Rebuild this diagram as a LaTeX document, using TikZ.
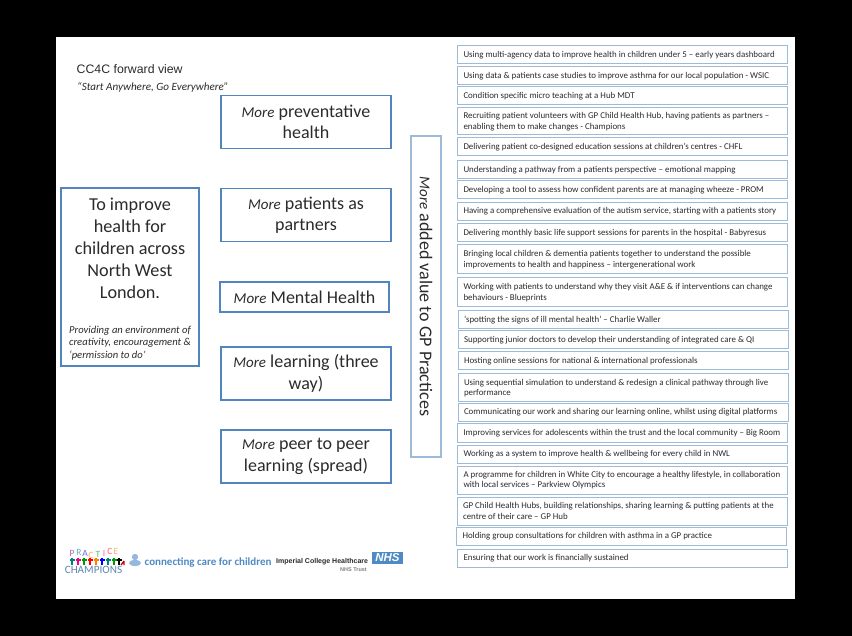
\documentclass[tikz,border=0pt]{standalone}
\usepackage{fontspec}
\setmainfont{Carlito}
\newfontfamily\arialfont{Liberation Sans}
\definecolor{boxblue}{HTML}{4F86C0}
\definecolor{itemblue}{HTML}{9DBAD6}
\definecolor{inktext}{HTML}{2B2B2B}
\definecolor{logoblue}{HTML}{4F8AC4}
\tikzset{
    morebox/.style={draw=boxblue,line width=1.2pt,fill=white,minimum width=170pt,minimum height=53pt,align=center,text=inktext,font=\fontsize{18}{21.5}\selectfont,inner sep=2pt},
    itembox/.style={draw=itemblue,line width=1pt,fill=white,minimum width=330pt,minimum height=18pt,text width=318pt,align=flush left,text=inktext,font=\fontsize{8.9}{10.6}\selectfont,inner xsep=6pt,inner ysep=1pt},
    logotext/.style={inner sep=0pt,font=\bfseries\fontsize{11}{11}\selectfont},
    person/.style={line width=1.3pt}
}
\newcommand{\more}[1]{{\fontsize{15}{21.5}\selectfont\itshape #1}}
\begin{document}
\begin{tikzpicture}[x=1pt,y=-1pt]
    \useasboundingbox (0,0) rectangle (852,636);
    \fill[black] (0,0) rectangle (852,636);
    \fill[white] (56,37) rectangle (795,599);

    \node[anchor=west,inner sep=0pt,text=inktext,font=\arialfont\fontsize{12.3}{14}\selectfont] (title) at (76.5,69.5) {CC4C forward view};
    \node[anchor=west,inner sep=0pt,text=inktext,font=\itshape\fontsize{11.1}{12}\selectfont] (motto) at (77,87) {``Start Anywhere, Go Everywhere''};

    % aim on the left
    \node[draw=boxblue,line width=1.2pt,fill=white,minimum width=138pt,minimum height=178pt] (aim) at (130,277) {};
    \node[align=center,inner sep=0pt,text=inktext,font=\fontsize{18.2}{22}\selectfont] (aimtext) at (130,248) {To improve\\health for\\children across\\North West\\London.};
    \node[anchor=west,align=left,inner sep=0pt,text=inktext,font=\itshape\fontsize{10.6}{12.5}\selectfont] (aimnote) at (69,343) {Providing an environment of\\creativity, encouragement \&\\`permission to do'};

    % the five mores
    \node[morebox] (preventative) at (306,122) {\more{More} preventative\\health};
    \node[morebox] (partners) at (306,215) {\more{More} patients as\\partners};
    \node[morebox,minimum width=169pt,minimum height=30pt] (mental) at (304.5,297) {\more{More} Mental Health};
    \node[morebox] (learning) at (306,373.5) {\more{More} learning (three\\way)};
    \node[morebox] (peer) at (306,456.5) {\more{More} peer to peer\\learning (spread)};

    \node[draw=itemblue,line width=1.2pt,fill=white,minimum width=321pt,minimum height=30pt,rotate=-90,text=inktext,font=\fontsize{18}{21}\selectfont] (value) at (426,296.5) {\more{More} added value to GP Practices};

    % projects
    \node[itembox] (item1) at (622.5,55) {Using multi-agency data to improve health in children under 5 – early years dashboard};
    \node[itembox] (item2) at (622.5,76) {Using data \& patients case studies to improve asthma for our local population - WSIC};
    \node[itembox] (item3) at (622.5,96) {Condition specific micro teaching at a Hub MDT};
    \node[itembox,minimum height=27pt] (item4) at (622.5,121.5) {Recruiting patient volunteers with GP Child Health Hub, having patients as partners –\\enabling them to make changes - Champions};
    \node[itembox] (item5) at (622.5,147) {Delivering patient co-designed education sessions at  children’s centres - CHFL};
    \node[itembox] (item6) at (622.5,170) {Understanding a pathway from a patients perspective – emotional  mapping};
    \node[itembox] (item7) at (622.5,190) {Developing a tool to assess how confident parents are at managing wheeze - PROM};
    \node[itembox] (item8) at (622.5,211.5) {Having a comprehensive evaluation of the autism service, starting with a patients story};
    \node[itembox] (item9) at (622.5,233) {Delivering monthly basic life support sessions for parents in the hospital - Babyresus};
    \node[itembox,minimum height=29pt] (item10) at (622.5,259.5) {Bringing local children \& dementia patients together to understand the possible\\improvements to health and happiness – intergenerational work};
    \node[itembox,minimum height=29pt] (item11) at (622.5,292.5) {Working with patients to understand why they visit A\&E \& if interventions can change\\behaviours - Blueprints};
    \node[itembox] (item12) at (623,320) {‘spotting the signs of ill mental health’ – Charlie Waller};
    \node[itembox] (item13) at (623,340) {Supporting junior doctors to develop their understanding of integrated care \& QI};
    \node[itembox] (item14) at (623,361) {Hosting online sessions for national \& international professionals};
    \node[itembox,minimum height=28pt] (item15) at (623,388) {Using sequential simulation to understand \& redesign a clinical pathway through live\\performance};
    \node[itembox] (item16) at (623,412.5) {Communicating our work and sharing our learning online, whilst using digital platforms};
    \node[itembox] (item17) at (622.5,433) {Improving services for adolescents within the trust and the local community – Big Room};
    \node[itembox] (item18) at (622.5,454) {Working as a system to improve health \& wellbeing for every child in NWL};
    \node[itembox,minimum height=28pt] (item19) at (622.5,480) {A programme for children in White City to encourage a healthy lifestyle, in collaboration\\with local services – Parkview Olympics};
    \node[itembox,minimum height=28pt] (item20) at (622,511) {GP Child Health Hubs, building relationships, sharing learning \& putting patients at the\\centre of their care – GP Hub};
    \node[itembox] (item21) at (621.5,536) {Holding group consultations for children with asthma in a GP practice};
    \node[itembox] (item22) at (622.5,558) {Ensuring that our work is financially sustained};

    % logos
    \node[inner sep=0pt,text=logoblue!70!gray,font=\fontsize{11.2}{11}\selectfont] (champions) at (93.5,570) {CHAMPIONS};
    \foreach \letter/\px/\py/\colr in {P/72/553/violet,R/79/552/teal,A/85/553/blue,C/91/555/orange,T/98/554/green!60!black,I/104/553/magenta,C/110/551/red,E/116/551/orange}
        \node[inner sep=0pt,text=\colr!60!white,font=\fontsize{9.5}{9}\selectfont] (letter\px) at (\px,\py) {\letter};
    \foreach \px/\colr in {72/teal,78/magenta,84/green!60!black,90/red,96/orange,102/blue,108/teal,114/green!60!black,119/black}
        \draw[person,draw=\colr] (\px,558) -- (\px,564.5) (\px-2.5,560) -- (\px+2.5,560);
    \draw[person,draw=red!80!black] (124,561) -- (121,565) (124,561) -- (124,565);

    \fill[logoblue!60!white] (135,557) circle (3.2pt);
    \fill[logoblue!60!white] (135,563) ellipse (6pt and 3pt);
    \node[logotext,anchor=west,text=logoblue] (connecting) at (144.5,562.5) {connecting care for children};

    \node[inner sep=0pt,anchor=west,text=inktext,font=\arialfont\bfseries\fontsize{7}{8}\selectfont] (imperial) at (276,562) {Imperial College Healthcare};
    \node[inner sep=0pt,anchor=east,text=gray,font=\arialfont\bfseries\fontsize{5.5}{6}\selectfont] (trust) at (367,570) {NHS Trust};
    \node[fill=logoblue,text=white,inner sep=0pt,minimum width=31pt,minimum height=12pt,font=\arialfont\bfseries\itshape\fontsize{11.5}{12}\selectfont] (nhs) at (387.5,557.5) {NHS};
\end{tikzpicture}
\end{document}
